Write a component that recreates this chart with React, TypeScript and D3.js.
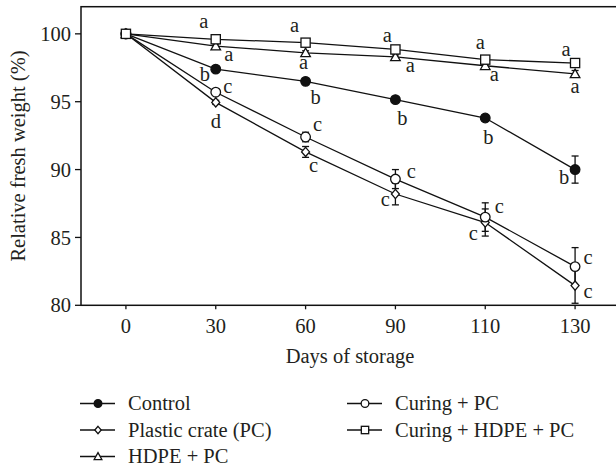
import React from "react";
import * as d3 from "d3";

const days = ["0", "30", "60", "90", "110", "130"];
const yTicks = [80, 85, 90, 95, 100];

const control = [100, 97.4, 96.5, 95.15, 93.8, 90.0];
const controlErr = [0, 0.15, 0.15, 0.15, 0.25, 1.0];
const plasticCrate = [100, 94.95, 91.3, 88.2, 86.1, 81.45];
const plasticCrateErr = [0, 0.15, 0.4, 0.8, 1.0, 1.3];
const hdpePc = [100, 99.1, 98.6, 98.3, 97.65, 97.05];
const hdpePcErr = [0, 0.15, 0.15, 0.15, 0.15, 0.25];
const curingPc = [100, 95.7, 92.4, 89.3, 86.5, 82.85];
const curingPcErr = [0, 0.15, 0.35, 0.7, 1.05, 1.4];
const curingHdpePc = [100, 99.6, 99.35, 98.85, 98.1, 97.85];
const curingHdpePcErr = [0, 0.1, 0.1, 0.1, 0.15, 0.1];

const controlLetters = ["", "b", "b", "b", "b", "b"];
const plasticCrateLetters = ["", "d", "c", "c", "c", "c"];
const hdpePcLetters = ["", "a", "a", "a", "a", "a"];
const curingPcLetters = ["", "c", "c", "c", "c", "c"];
const curingHdpePcLetters = ["", "a", "a", "a", "a", "a"];

// letter placement offsets (px) relative to the point
const controlOff = [[0, 0], [-11, 6], [10, 16], [7, 19], [3, 20], [-11, 8]];
const plasticCrateOff = [[0, 0], [0, 19], [8, 14], [-10, 6], [-12, 11], [13, 6]];
const hdpePcOff = [[0, 0], [13, 9], [-2, 10], [15, 9], [9, 9], [0, 13]];
const curingPcOff = [[0, 0], [12, -5], [12, -12], [16, -7], [14, -10], [13, -9]];
const curingHdpePcOff = [[0, 0], [-12, -17], [-11, -17], [-8, -14], [-5, -17], [-9, -13]];

type Marker = "filledCircle" | "diamond" | "triangle" | "circle" | "square";

const series = [
  { name: "Control", values: control, err: controlErr, letters: controlLetters, off: controlOff, marker: "filledCircle" as Marker },
  { name: "Plastic crate (PC)", values: plasticCrate, err: plasticCrateErr, letters: plasticCrateLetters, off: plasticCrateOff, marker: "diamond" as Marker },
  { name: "HDPE + PC", values: hdpePc, err: hdpePcErr, letters: hdpePcLetters, off: hdpePcOff, marker: "triangle" as Marker },
  { name: "Curing + PC", values: curingPc, err: curingPcErr, letters: curingPcLetters, off: curingPcOff, marker: "circle" as Marker },
  { name: "Curing + HDPE + PC", values: curingHdpePc, err: curingHdpePcErr, letters: curingHdpePcLetters, off: curingHdpePcOff, marker: "square" as Marker },
];

const FONT = "'Liberation Serif', 'Times New Roman', serif";
const FS = 20.5;
const TXT = "#231f20";

function MarkerShape({ type, x, y, k = 1 }: { type: Marker; x: number; y: number; k?: number }) {
  const s = { stroke: "#111", strokeWidth: 1.3 };
  switch (type) {
    case "filledCircle":
      return <circle cx={x} cy={y} r={4.8 * k} fill="#111" {...s} />;
    case "circle":
      return <circle cx={x} cy={y} r={4.8 * k} fill="#fff" {...s} />;
    case "square":
      return <rect x={x - 4.6 * k} y={y - 4.6 * k} width={9.2 * k} height={9.2 * k} fill="#fff" {...s} />;
    case "diamond":
      return <path d={`M${x},${y - 4.6 * k}L${x + 4 * k},${y}L${x},${y + 4.6 * k}L${x - 4 * k},${y}Z`} fill="#fff" {...s} />;
    case "triangle":
      return <path d={`M${x},${y - 4.8 * k}L${x + 4.8 * k},${y + 3.8 * k}L${x - 4.8 * k},${y + 3.8 * k}Z`} fill="#fff" {...s} />;
  }
  return null;
}

export default function App() {
  const W = 616, H = 468;
  const left = 81, right = 620, top = 6.7, bottom = 305.3;
  const x = d3.scalePoint<string>().domain(days).range([left, right]).padding(0.5);
  const y = d3.scaleLinear().domain([80, 102]).range([bottom, top]);
  const line = d3.line<number>().x((_, i) => x(days[i])!).y((v) => y(v));

  const legendItems = [
    { s: series[0], lx: 80, base: 410 },
    { s: series[1], lx: 80, base: 436.5 },
    { s: series[2], lx: 80, base: 463 },
    { s: series[3], lx: 347, base: 410 },
    { s: series[4], lx: 347, base: 436.5 },
  ];

  return (
    <svg width={W} height={H} style={{ position: "absolute", left: 0, top: 0, background: "#fff" }} fontFamily={FONT}>
      <rect x={0} y={0} width={W} height={H} fill="#fff" />
      {/* frame */}
      <rect x={left} y={top} width={right - left} height={bottom - top} fill="none" stroke="#111" strokeWidth={1.5} />
      {/* y ticks */}
      {yTicks.map((t) => (
        <g key={t}>
          <line x1={left - 6} x2={left} y1={y(t)} y2={y(t)} stroke="#111" strokeWidth={1.3} />
          <text x={71} y={y(t)} dy="0.35em" textAnchor="end" fontSize={FS} fill={TXT}>{t}</text>
        </g>
      ))}
      {/* x ticks */}
      {days.map((d) => (
        <g key={d}>
          <line x1={x(d)} x2={x(d)} y1={bottom} y2={bottom + 4} stroke="#111" strokeWidth={1.3} />
          <text x={x(d)} y={333} textAnchor="middle" fontSize={FS} fill={TXT}>{d}</text>
        </g>
      ))}
      <text x={350} y={363} textAnchor="middle" fontSize={FS} fill={TXT}>Days of storage</text>
      <text transform={`translate(25,156) rotate(-90)`} textAnchor="middle" fontSize={FS} fill={TXT}>Relative fresh weight (%)</text>

      {/* lines */}
      {series.map((s) => (
        <path key={s.name} d={line(s.values)!} fill="none" stroke="#111" strokeWidth={1.3} />
      ))}
      {/* error bars */}
      {series.map((s) =>
        s.values.map((v, i) =>
          s.err[i] > 0 ? (
            <g key={s.name + i} stroke="#111" strokeWidth={1.3}>
              <line x1={x(days[i])} x2={x(days[i])} y1={y(v + s.err[i])} y2={y(v - s.err[i])} />
              <line x1={x(days[i])! - 3.5} x2={x(days[i])! + 3.5} y1={y(v + s.err[i])} y2={y(v + s.err[i])} />
              <line x1={x(days[i])! - 3.5} x2={x(days[i])! + 3.5} y1={y(v - s.err[i])} y2={y(v - s.err[i])} />
            </g>
          ) : null
        )
      )}
      {/* markers */}
      {series.map((s) =>
        s.values.map((v, i) => <MarkerShape key={s.name + "m" + i} type={s.marker} x={x(days[i])!} y={y(v)} />)
      )}
      {/* letters */}
      {series.map((s) =>
        s.letters.map((l, i) =>
          l ? (
            <text key={s.name + "l" + i} x={x(days[i])! + s.off[i][0]} y={y(s.values[i]) + s.off[i][1]} dy="0.3em" textAnchor="middle" fontSize={FS} fill={TXT}>
              {l}
            </text>
          ) : null
        )
      )}
      {/* legend */}
      {legendItems.map(({ s, lx, base }) => (
        <g key={"lg" + s.name}>
          <line x1={lx} x2={lx + 35} y1={base - 6.5} y2={base - 6.5} stroke="#111" strokeWidth={1.3} />
          <MarkerShape type={s.marker} x={lx + 18} y={base - 6.5} k={0.8} />
          <text x={lx + 48} y={base} fontSize={FS} fill={TXT}>{s.name}</text>
        </g>
      ))}
    </svg>
  );
}
